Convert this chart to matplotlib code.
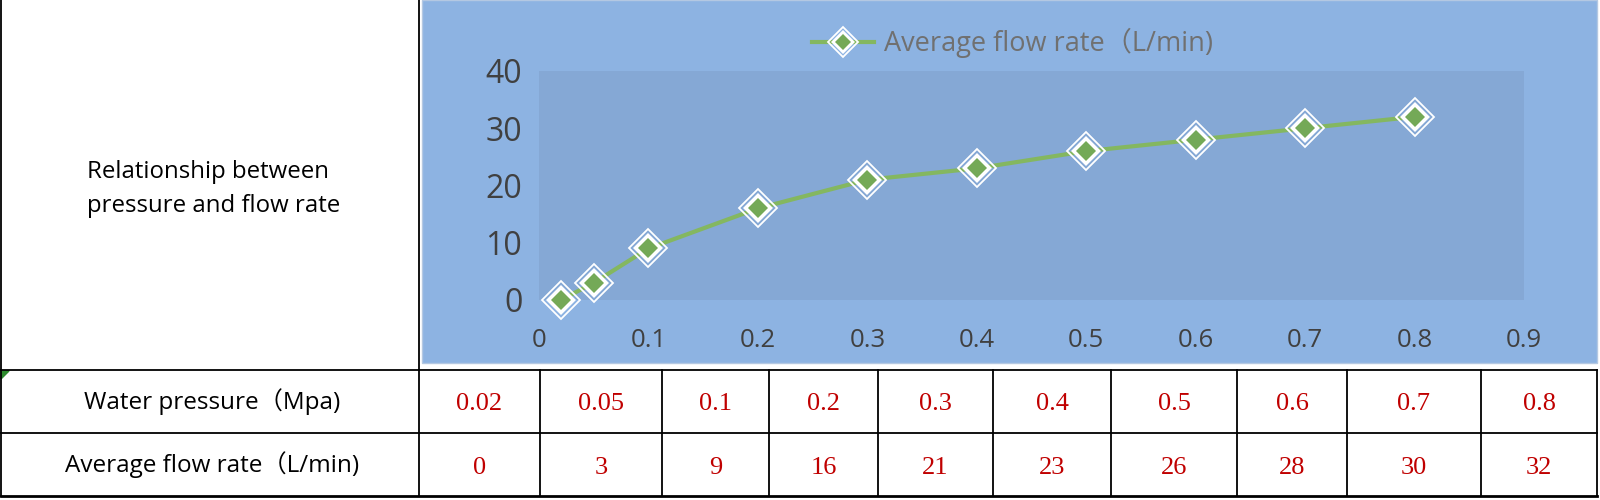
import matplotlib.pyplot as plt
from matplotlib.legend_handler import HandlerTuple
from matplotlib.patches import Rectangle, Polygon
from matplotlib.font_manager import FontProperties

pressure = [0.02, 0.05, 0.1, 0.2, 0.3, 0.4, 0.5, 0.6, 0.7, 0.8]
flow = [0, 3, 9, 16, 21, 23, 26, 28, 30, 32]
pressure_labels = ["0.02", "0.05", "0.1", "0.2", "0.3", "0.4", "0.5", "0.6", "0.7", "0.8"]
flow_labels = ["0", "3", "9", "16", "21", "23", "26", "28", "30", "32"]
x_ticks = [0, 0.1, 0.2, 0.3, 0.4, 0.5, 0.6, 0.7, 0.8, 0.9]
x_tick_labels = ["0", "0.1", "0.2", "0.3", "0.4", "0.5", "0.6", "0.7", "0.8", "0.9"]
y_ticks = [0, 10, 20, 30, 40]
row_titles = ["Water pressure（Mpa)", "Average flow rate（L/min)"]
legend_label = "Average flow rate（L/min)"
title_text = "Relationship between\npressure and flow rate"

W, H = 1600, 500
col_edges = [1, 419, 540, 662, 769, 878, 993, 1111, 1237, 1347, 1481, 1597]
row_edges = [370, 433, 496]

chart_bg = '#8db3e2'
plot_bg = '#85a8d5'
line_green = '#84b760'
marker_green = '#74a957'
red = '#c00000'
latin_cjk = ['Open Sans', 'Noto Sans CJK SC']

fig = plt.figure(figsize=(16, 5), dpi=100)
fig.patch.set_facecolor('white')

# pixel-space layer for the sheet cells
bg = fig.add_axes([0, 0, 1, 1])
bg.set_xlim(0, W)
bg.set_ylim(H, 0)
bg.axis('off')

bg.add_patch(Rectangle((422, 0), 1597 - 422, 363, fc=chart_bg, ec='#b4c8e2', lw=1))

# grid lines
for y in row_edges:
    bg.plot([col_edges[0], col_edges[-1]], [y, y], color='black',
            lw=2.0 if y == row_edges[-1] else 1.3)
for x in col_edges:
    bg.plot([x, x], [row_edges[0], row_edges[-1]], color='black', lw=1.3)
bg.plot([419, 419], [0, row_edges[0]], color='black', lw=1.3)
bg.plot([1, 1], [0, row_edges[0]], color='black', lw=1.3)
bg.add_patch(Polygon([(1, 371), (9, 371), (1, 379)], color='#2e8b2e'))

bg.text(214, 189, title_text, ha='center', va='center', multialignment='left',
        fontsize=17.3, family='Open Sans', color='black', linespacing=1.55)

row_mid = [(row_edges[0] + row_edges[1]) / 2, (row_edges[1] + row_edges[2]) / 2]
for r, title in enumerate(row_titles):
    bg.text(212, row_mid[r], title, ha='center', va='center', fontsize=17.5,
            family=latin_cjk, color='black')
for i in range(len(pressure)):
    cx = (col_edges[i + 1] + col_edges[i + 2]) / 2
    bg.text(cx, row_mid[0] + 3, pressure_labels[i], ha='center', va='center',
            fontsize=19, family='Liberation Serif', color=red)
    bg.text(cx, row_mid[1] + 3, flow_labels[i], ha='center', va='center',
            fontsize=19, family='Liberation Serif', color=red)

# the chart itself
ax = fig.add_axes([539 / W, 1 - 300 / H, (1524 - 539) / W, (300 - 71) / H])
ax.set_facecolor(plot_bg)
for s in ax.spines.values():
    s.set_visible(False)

ln, = ax.plot(pressure, flow, color=line_green, lw=3.0, zorder=2)
m1, = ax.plot(pressure, flow, ls='none', marker='D', ms=19, mfc='none',
              mec='white', mew=1.3, zorder=3, clip_on=False)
m2, = ax.plot(pressure, flow, ls='none', marker='D', ms=15, mfc='white',
              mew=0, zorder=4, clip_on=False)
m3, = ax.plot(pressure, flow, ls='none', marker='D', ms=10.5, mfc=marker_green,
              mew=0, zorder=5, clip_on=False)

ax.set_xlim(0, 0.9)
ax.set_ylim(0, 40)
ax.set_xticks(x_ticks)
ax.set_xticklabels(x_tick_labels, fontsize=18.5, family='Open Sans')
ax.set_yticks(y_ticks)
ax.set_yticklabels([str(v) for v in y_ticks], fontsize=23, family='Open Sans')
ax.tick_params(axis='both', length=0, colors='#404040')
ax.tick_params(axis='x', pad=20)
ax.tick_params(axis='y', pad=12)

ax.legend([(ln, m1, m2, m3)], [legend_label],
          handler_map={tuple: HandlerTuple(ndivide=1, pad=0)},
          loc='center left', bbox_to_anchor=(812 / W, 1 - 43 / H),
          bbox_transform=fig.transFigure, frameon=False, borderpad=0,
          borderaxespad=0, handlelength=2.3, handletextpad=0.35,
          markerscale=0.8, labelcolor='#707070',
          prop=FontProperties(family=latin_cjk, size=19.5))

fig.savefig('out.png', dpi=100)
